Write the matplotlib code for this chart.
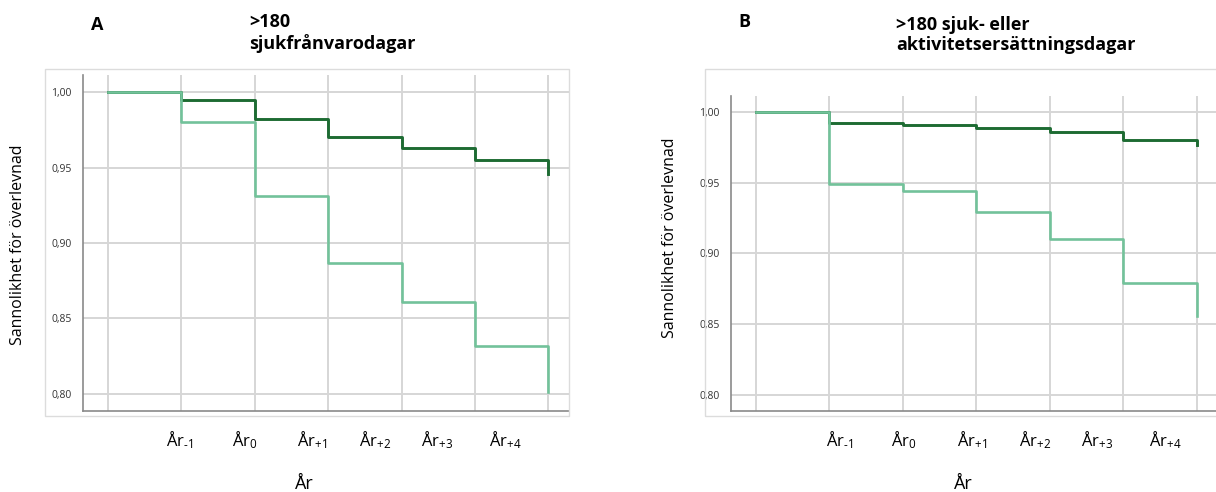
import matplotlib.pyplot as plt
from matplotlib.patches import Rectangle

plt.rcParams['font.family'] = ['Open Sans', 'DejaVu Sans']
plt.rcParams['mathtext.fontset'] = 'custom'
plt.rcParams['mathtext.rm'] = 'Open Sans'
plt.rcParams['mathtext.it'] = 'Open Sans'

# Kaplan-Meier steps, x = 0..6
steps = [0, 1, 2, 3, 4, 5, 6]
a_dark = [1.0, 0.995, 0.982, 0.970, 0.963, 0.955, 0.946]
a_light = [1.0, 0.980, 0.931, 0.887, 0.861, 0.832, 0.8015]
b_dark = [1.0, 0.992, 0.991, 0.9885, 0.986, 0.980, 0.9765]
b_light = [1.0, 0.949, 0.944, 0.929, 0.910, 0.879, 0.856]

year_labels = ["År$_{\u20101}$", "År$_{0}$", "År$_{+1}$", "År$_{+2}$", "År$_{+3}$", "År$_{+4}$"]
yticks = [0.80, 0.85, 0.90, 0.95, 1.00]
ytick_labels = ["0,80", "0,85", "0,90", "0,95", "1,00"]

# where the year labels sit (data x), they are off the grid in the original
a_label_pos = [0.98, 1.87, 2.78, 3.64, 4.48, 5.41]
b_label_pos = [1.15, 2.02, 2.94, 3.80, 4.65, 5.57]

W, H = 1216, 492
fig = plt.figure(figsize=(W / 100, H / 100), dpi=100)

dark = '#1d6b32'
light = '#72c29a'
grid = '#d6d6d6'


def px(x0, y0, x1, y1):
    return [x0 / W, 1 - y1 / H, (x1 - x0) / W, (y1 - y0) / H]


def panel(rect, frame, xlim, dark_y, light_y, label_pos):
    fig.patches.append(Rectangle((frame[0] / W, 1 - frame[3] / H),
                                 (frame[2] - frame[0]) / W, (frame[3] - frame[1]) / H,
                                 transform=fig.transFigure, fill=False,
                                 edgecolor='#dcdcdc', lw=1))
    ax = fig.add_axes(rect)
    ax.set_xlim(*xlim)
    ax.set_ylim(0.7887, 1.0113)
    ax.set_xticks(steps, minor=True)
    ax.set_xticks(label_pos)
    ax.set_xticklabels(year_labels, fontsize=12)
    ax.tick_params(axis='x', which='both', length=0, pad=13)
    ax.set_yticks(yticks)
    ax.set_yticklabels(ytick_labels, fontsize=7.5, color='#333333')
    ax.tick_params(axis='y', length=0, pad=8)
    ax.grid(True, axis='x', which='minor', color=grid, lw=1.4)
    ax.grid(True, axis='y', which='major', color=grid, lw=1.4)
    ax.set_axisbelow(True)
    for s in ['top', 'right']:
        ax.spines[s].set_visible(False)
    for s in ['left', 'bottom']:
        ax.spines[s].set_color('#8a8a8a')
        ax.spines[s].set_linewidth(1.2)
    ax.step(steps, dark_y, where='post', color=dark, lw=2.1)
    ax.step(steps, light_y, where='post', color=light, lw=1.9)
    return ax


panel(px(83, 75, 569, 411), (45, 69, 569, 416), (-0.34, 6.28),
      a_dark, a_light, a_label_pos)
panel(px(731, 96, 1245, 411), (705, 69, 1245, 416), (-0.336, 6.66),
      b_dark, b_light, b_label_pos)

fig.text(91 / W, 1 - 25 / H, "A", fontsize=13, fontweight='bold', va='center')
fig.text(249 / W, 1 - 33 / H, ">180\nsjukfrånvarodagar", fontsize=13,
         fontweight='bold', va='center', linespacing=1.2)
fig.text(738 / W, 1 - 22 / H, "B", fontsize=13, fontweight='bold', va='center')
fig.text(896 / W, 1 - 35 / H, ">180 sjuk- eller\naktivitetsersättningsdagar", fontsize=13,
         fontweight='bold', va='center', linespacing=1.2)

fig.text(18 / W, 1 - 245 / H, "Sannolikhet för överlevnad", rotation=90,
         fontsize=11.5, ha='center', va='center')
fig.text(670 / W, 1 - 238 / H, "Sannolikhet för överlevnad", rotation=90,
         fontsize=11.5, ha='center', va='center')
fig.text(304 / W, 1 - 484 / H, "År", fontsize=13, ha='center', va='center')
fig.text(963 / W, 1 - 484 / H, "År", fontsize=13, ha='center', va='center')

fig.savefig('out.png', dpi=100)
